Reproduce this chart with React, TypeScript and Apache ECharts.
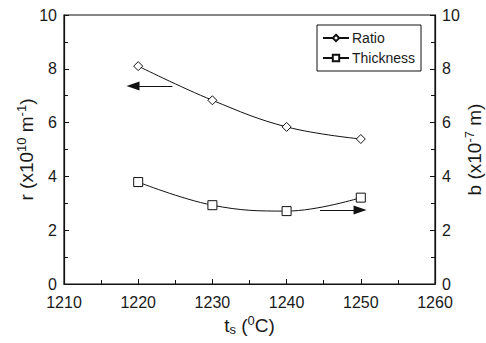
import React, { useEffect, useRef } from "react";
import * as echarts from "echarts";

const temps = [1220, 1230, 1240, 1250];
const ratio = [8.1, 6.83, 5.84, 5.39];
const thickness = [3.79, 2.93, 2.71, 3.21];
const xTicks = [1210, 1260, 10];
const yTicks = [0, 10, 2];

const FONT = "Liberation Sans";
const TXT = "#1a1a1a";

export default function App() {
  const ref = useRef<HTMLDivElement>(null);
  useEffect(() => {
    const chart = echarts.init(ref.current!, null, { renderer: "svg" });
    const supRich = {
      a: { fontSize: 19, fontFamily: FONT, color: TXT },
      sup: { fontSize: 13, fontFamily: FONT, color: TXT, padding: [0, 0, 9, 0] },
      sub: { fontSize: 13, fontFamily: FONT, color: TXT, padding: [8, 0, 0, 0] },
    };
    const axisCommon = {
      axisLine: { show: true, lineStyle: { color: "#111", width: 1.2 } },
      axisTick: { show: true, inside: true, length: 5, lineStyle: { color: "#111" } },
      minorTick: { show: true, splitNumber: 2, length: 4, lineStyle: { color: "#111" } },
      splitLine: { show: false },
      axisLabel: { fontSize: 16, fontFamily: FONT, color: TXT, margin: 7, formatter: (v: number) => String(v) },
    };
    chart.setOption({
      animation: false,
      grid: {
        left: 64, right: 51, top: 15, bottom: 59,
        containLabel: false,
        outerBoundsMode: "none",
        show: true, borderColor: "#111", borderWidth: 1.2,
      },
      legend: {
        orient: "vertical",
        left: 317,
        top: 25,
        padding: [6, 6, 6, 5],
        itemGap: 6,
        itemWidth: 26,
        itemHeight: 8,
        borderColor: "#111",
        borderWidth: 1,
        textStyle: { fontSize: 14, fontFamily: FONT, color: TXT, padding: [0, 0, 0, -2] },
        data: ["Ratio", "Thickness"],
      },
      xAxis: {
        type: "value",
        min: xTicks[0],
        max: xTicks[1],
        interval: xTicks[2],
        ...axisCommon,
        axisLabel: { ...axisCommon.axisLabel, margin: 10 },
        name: "{a|t}{sub|s}{a| (}{sup|0}{a|C)}",
        nameLocation: "middle",
        nameGap: 30,
        nameMoveOverlap: false,
        nameTextStyle: { rich: supRich },
      },
      yAxis: [
        {
          type: "value",
          min: yTicks[0],
          max: yTicks[1],
          interval: yTicks[2],
          ...axisCommon,
          name: "{a|r (x10}{sup|10}{a| m}{sup|-1}{a|)}",
          nameLocation: "middle",
          nameGap: 27,
          nameMoveOverlap: false,
          nameTextStyle: { rich: supRich },
        },
        {
          type: "value",
          position: "right",
          min: yTicks[0],
          max: yTicks[1],
          interval: yTicks[2],
          ...axisCommon,
          name: "{a|b (x10}{sup|-7}{a| m)}",
          nameLocation: "middle",
          nameGap: 28,
          nameRotate: 90,
          nameMoveOverlap: false,
          nameTextStyle: { rich: supRich },
        },
      ],
      series: [
        {
          name: "Ratio",
          type: "line",
          smooth: 0.4,
          data: temps.map((t, i) => [t, ratio[i]]),
          symbol: "diamond",
          symbolSize: 9,
          lineStyle: { color: "#111", width: 1 },
          itemStyle: { color: "#fff", borderColor: "#111", borderWidth: 1 },
          markLine: {
            silent: true,
            symbol: ["none", "triangle"],
            symbolSize: [9, 13],
            label: { show: false },
            lineStyle: { color: "#111", width: 1.2, type: "solid" },
            itemStyle: { color: "#111" },
            data: [[{ coord: [1224.6, 7.36] }, { coord: [1219.3, 7.36] }]],
          },
        },
        {
          name: "Thickness",
          type: "line",
          yAxisIndex: 1,
          smooth: 0.4,
          data: temps.map((t, i) => [t, thickness[i]]),
          symbol: "rect",
          symbolSize: 9,
          lineStyle: { color: "#111", width: 1 },
          itemStyle: { color: "#fff", borderColor: "#111", borderWidth: 1 },
          markLine: {
            silent: true,
            symbol: ["none", "triangle"],
            symbolSize: [9, 13],
            label: { show: false },
            lineStyle: { color: "#111", width: 1.2, type: "solid" },
            itemStyle: { color: "#111" },
            data: [[{ coord: [1244.5, 2.75] }, { coord: [1249.9, 2.75] }]],
          },
        },
      ],
    });
    return () => chart.dispose();
  }, []);
  return <div ref={ref} style={{ position: "absolute", left: 0, top: 0, width: 486, height: 343 }} />;
}
